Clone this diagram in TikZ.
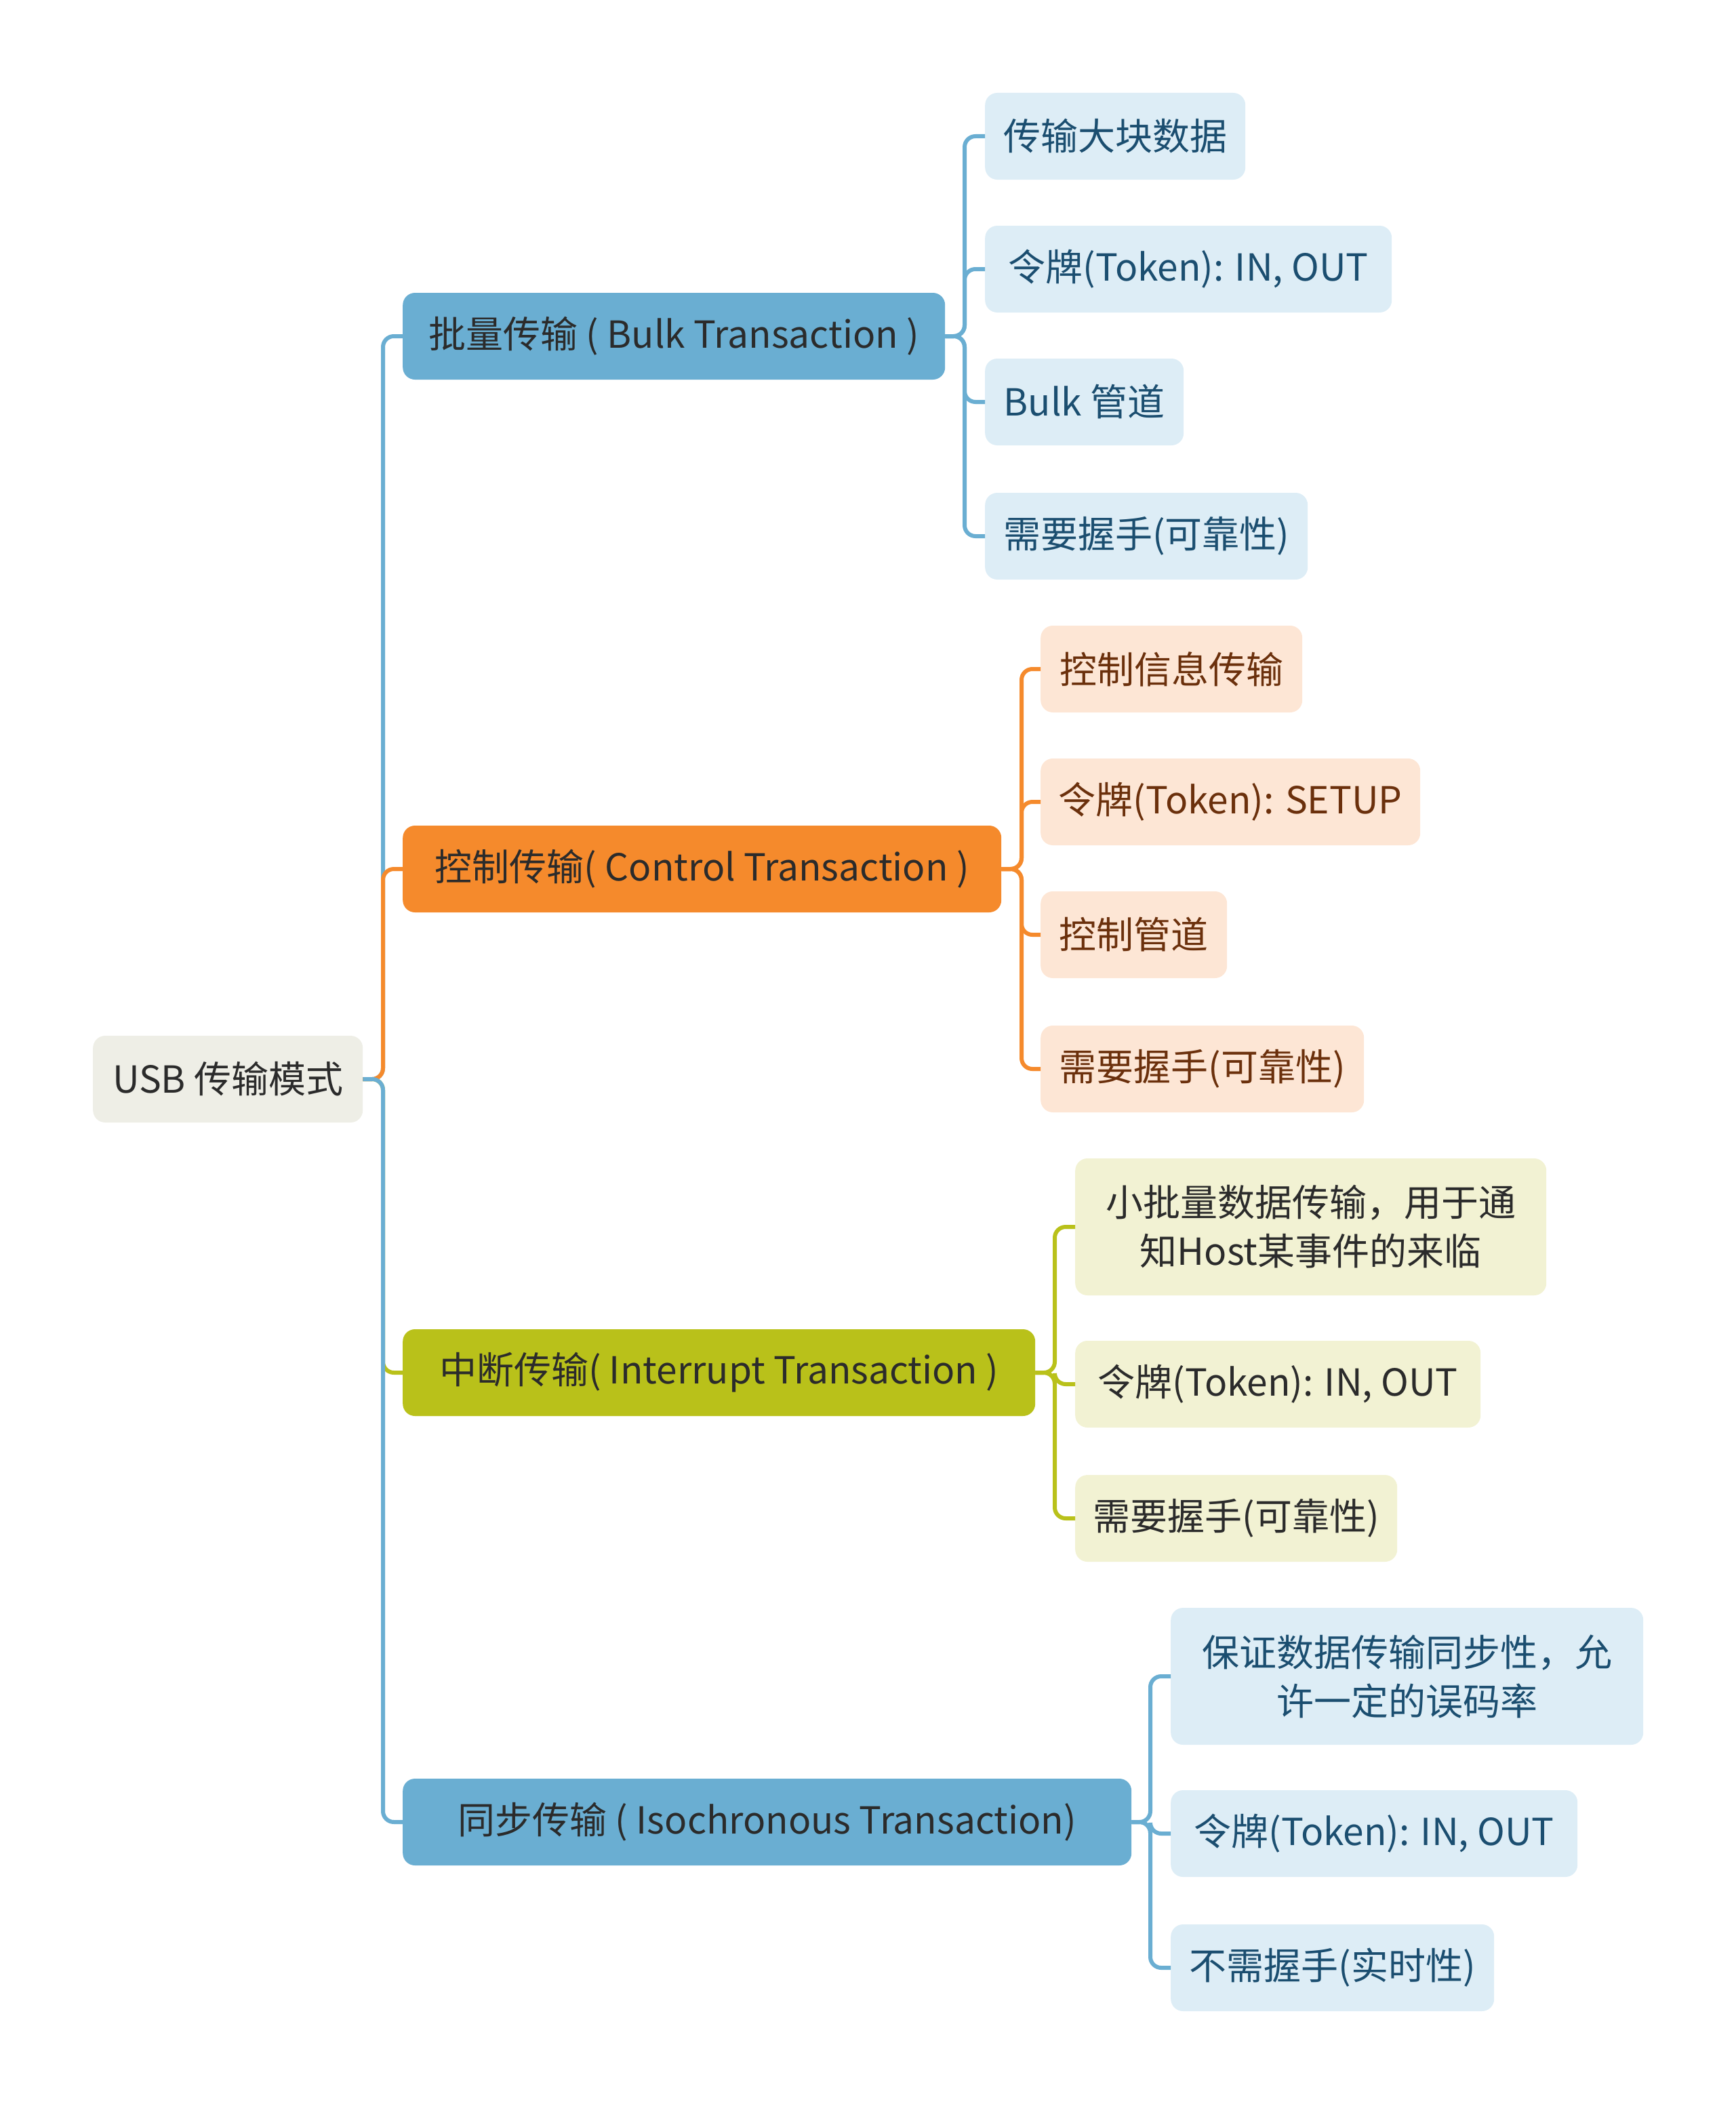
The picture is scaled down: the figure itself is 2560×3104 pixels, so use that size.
\documentclass[tikz,border=0pt]{standalone}
\usepackage{fontspec}
\setmainfont{Noto Sans CJK SC}
\definecolor{cblue}{HTML}{6AAED2}
\definecolor{corange}{HTML}{F58A2C}
\definecolor{colive}{HTML}{B9C11A}
\definecolor{rootfill}{HTML}{EEEEE6}
\definecolor{lblue}{HTML}{DDEDF6}
\definecolor{lorange}{HTML}{FDE6D5}
\definecolor{lolive}{HTML}{F2F2D3}
\definecolor{tblue}{HTML}{1B4E70}
\definecolor{tbrown}{HTML}{6B300C}
\definecolor{tdark}{HTML}{2B2B2B}
\begin{document}
\begin{tikzpicture}[x=1pt,y=-1pt,
  every node/.style={font=\fontsize{55pt}{72pt}\selectfont, inner sep=0pt, align=center, anchor=west, rounded corners=18pt},
  rootbox/.style={fill=rootfill, text=tdark, minimum height=128pt},
  mainbox/.style={text=tdark, minimum height=128pt},
  subbox/.style={minimum height=128pt},
  conn/.style={line width=6pt, rounded corners=16pt},
]
\useasboundingbox (0,0) rectangle (2560,3104);

% root
\node[rootbox, minimum width=398pt] (root) at (137,1592) {USB 传输模式};

% main branches
\node[mainbox, fill=cblue, minimum width=800pt] (bulk) at (594,496) {批量传输 ( Bulk Transaction )};
\node[mainbox, fill=corange, minimum width=883pt] (ctrl) at (594,1282) {控制传输( Control Transaction )};
\node[mainbox, fill=colive, minimum width=933pt] (intr) at (594,2025) {中断传输( Interrupt Transaction )};
\node[mainbox, fill=cblue, minimum width=1075pt] (iso) at (594,2688) {同步传输 ( Isochronous Transaction)};

% bulk children
\node[subbox, fill=lblue, text=tblue, minimum width=384pt] (b1) at (1453,201) {传输大块数据};
\node[subbox, fill=lblue, text=tblue, minimum width=600pt] (b2) at (1453,397) {令牌(Token): IN, OUT};
\node[subbox, fill=lblue, text=tblue, minimum width=293pt] (b3) at (1453,593) {Bulk 管道};
\node[subbox, fill=lblue, text=tblue, minimum width=476pt] (b4) at (1453,791) {需要握手(可靠性)};

% control children
\node[subbox, fill=lorange, text=tbrown, minimum width=386pt] (c1) at (1535,987) {控制信息传输};
\node[subbox, fill=lorange, text=tbrown, minimum width=560pt] (c2) at (1535,1183) {令牌(Token): SETUP};
\node[subbox, fill=lorange, text=tbrown, minimum width=275pt] (c3) at (1535,1379) {控制管道};
\node[subbox, fill=lorange, text=tbrown, minimum width=477pt] (c4) at (1535,1577) {需要握手(可靠性)};

% interrupt children
\node[subbox, fill=lolive, text=tdark, minimum width=695pt, minimum height=202pt] (i1) at (1586,1810) {小批量数据传输，用于通\\知Host某事件的来临};
\node[subbox, fill=lolive, text=tdark, minimum width=598pt] (i2) at (1586,2042) {令牌(Token): IN, OUT};
\node[subbox, fill=lolive, text=tdark, minimum width=475pt] (i3) at (1586,2240) {需要握手(可靠性)};

% iso children
\node[subbox, fill=lblue, text=tblue, minimum width=697pt, minimum height=202pt] (s1) at (1727,2473) {保证数据传输同步性，允\\许一定的误码率};
\node[subbox, fill=lblue, text=tblue, minimum width=600pt] (s2) at (1727,2705) {令牌(Token): IN, OUT};
\node[subbox, fill=lblue, text=tblue, minimum width=477pt] (s3) at (1727,2903) {不需握手(实时性)};

% trunk connectors (draw order matters for visible colours)
\coordinate (tj) at (565,1592);
\draw[conn, cblue] (root.east) -- (tj) |- (bulk.west);
\draw[conn, colive] (root.east) -- (tj) |- (intr.west);
\draw[conn, corange] (root.east) -- (tj) |- (ctrl.west);
\draw[conn, cblue] (root.east) -- (tj) |- (iso.west);

% bulk child connectors
\coordinate (bj) at (1423,496);
\foreach \n in {b1,b2,b3,b4} \draw[conn, cblue] (bulk.east) -- (bj) |- (\n.west);
% control child connectors
\coordinate (cj) at (1507,1282);
\foreach \n in {c1,c2,c3,c4} \draw[conn, corange] (ctrl.east) -- (cj) |- (\n.west);
% interrupt child connectors
\coordinate (ij) at (1556,2025);
\foreach \n in {i1,i2,i3} \draw[conn, colive] (intr.east) -- (ij) |- (\n.west);
% iso child connectors
\coordinate (sj) at (1697,2688);
\foreach \n in {s1,s2,s3} \draw[conn, cblue] (iso.east) -- (sj) |- (\n.west);
\end{tikzpicture}
\end{document}
